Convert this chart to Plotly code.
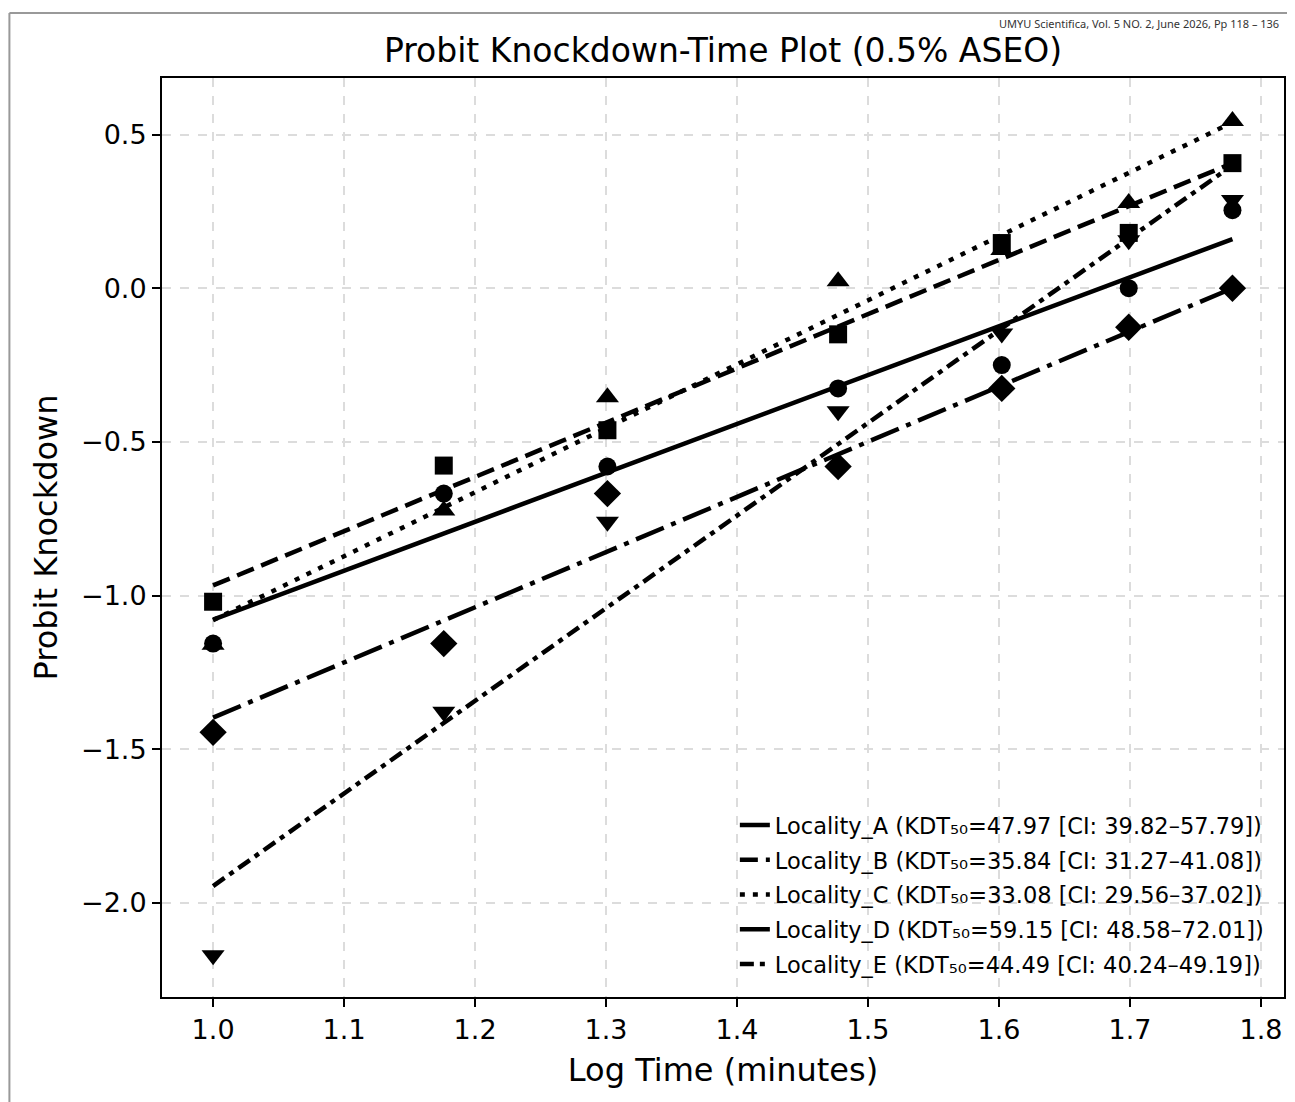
import numpy as np
import plotly.graph_objects as go

# exposure times (minutes) -> plotted on log10 scale
time_min = [10, 15, 20, 30, 40, 50, 60]

localities = ["Locality_A", "Locality_B", "Locality_C", "Locality_D", "Locality_E"]
kdt50 = ["47.97", "35.84", "33.08", "59.15", "44.49"]
ci_low = ["39.82", "31.27", "29.56", "48.58", "40.24"]
ci_high = ["57.79", "41.08", "37.02", "72.01", "49.19"]

# observed probit knockdown values
probit_a = [-1.156, -0.668, -0.580, -0.326, -0.250, 0.000, 0.254]
probit_b = [-1.020, -0.577, -0.462, -0.150, 0.147, 0.180, 0.407]
probit_c = [-1.160, -0.723, -0.355, 0.023, 0.124, 0.277, 0.544]
probit_d = [-1.445, -1.156, -0.668, -0.580, -0.326, -0.127, 0.000]
probit_e = [-2.170, -1.378, -0.760, -0.400, -0.147, 0.156, 0.287]

# fitted probit lines, values at first and last log time
fit_start = [-1.078, -0.967, -1.080, -1.397, -1.945]
fit_end = [0.160, 0.407, 0.540, 0.000, 0.400]

observed = [probit_a, probit_b, probit_c, probit_d, probit_e]
symbols = ["circle", "square", "triangle-up", "diamond", "triangle-down"]
msizes = [18, 18, 20, 21, 20]
dashes = ["solid", "18px,8px", "5px,8px", "30px,8px,5px,8px", "14px,6px,5px,6px"]

log_t = np.log10(time_min)
fig = go.Figure()

for i, name in enumerate(localities):
    fig.add_trace(go.Scatter(
        x=log_t, y=observed[i], mode="markers", showlegend=False,
        marker=dict(symbol=symbols[i], color="black", size=msizes[i]),
    ))

for i, name in enumerate(localities):
    label = f"{name} (KDT₅₀={kdt50[i]} [CI: {ci_low[i]}–{ci_high[i]}])"
    fig.add_trace(go.Scatter(
        x=[log_t[0], log_t[-1]], y=[fit_start[i], fit_end[i]], mode="lines",
        name=label, legendgroup=name,
        line=dict(color="black", width=4.5, dash=dashes[i]),
    ))

axis_common = dict(
    showline=True, mirror=True, linecolor="black", linewidth=2,
    ticks="outside", ticklen=8, tickwidth=2, tickcolor="black",
    tickfont=dict(size=27, color="black"),
    showgrid=True, gridcolor="#dcdcdc", gridwidth=1.5, griddash="dash",
    zeroline=False, tickformat=".1f",
)

# the page body adds an 8px margin, so the figure is 8px smaller than the window
fig.update_layout(
    width=1287, height=1094,
    margin=dict(l=154, r=9, t=70, b=105),
    plot_bgcolor="white", paper_bgcolor="white",
    font=dict(family="DejaVu Sans", color="black"),
    title=dict(text="Probit Knockdown-Time Plot (0.5% ASEO)", x=0.5, xref="paper",
               y=1 - 42 / 1094, yref="container", yanchor="middle",
               font=dict(size=33)),
    xaxis=dict(range=[0.961, 1.8175], dtick=0.1, tick0=1.0,
               title=dict(text="Log Time (minutes)", font=dict(size=32), standoff=14),
               **axis_common),
    yaxis=dict(range=[-2.306, 0.684], dtick=0.5, tick0=0,
               title=dict(text="Probit Knockdown", font=dict(size=32), standoff=14),
               **axis_common),
    legend=dict(x=0.9865, y=0.012, xanchor="right", yanchor="bottom",
                bgcolor="rgba(255,255,255,0)", font=dict(size=22.5),
                tracegroupgap=2.5),
    showlegend=True,
)

# page frame and running header of the source document
frame_top = 1 + 65 / 919
fig.add_shape(type="line", xref="paper", yref="paper",
              x0=-0.136, x1=1.01, y0=frame_top, y1=frame_top,
              line=dict(color="#999999", width=2))
fig.add_shape(type="line", xref="paper", yref="paper",
              x0=-0.136, x1=-0.136, y0=-0.2, y1=frame_top,
              line=dict(color="#999999", width=2))
fig.add_annotation(text="UMYU Scientifica, Vol. 5 NO. 2, June 2026, Pp 118 – 136",
                   xref="paper", yref="paper", x=0.997, y=frame_top - 1 / 919,
                   xanchor="right", yanchor="top", showarrow=False,
                   font=dict(family="Noto Sans", size=11, color="#333333"))

fig.write_html("out.html")
